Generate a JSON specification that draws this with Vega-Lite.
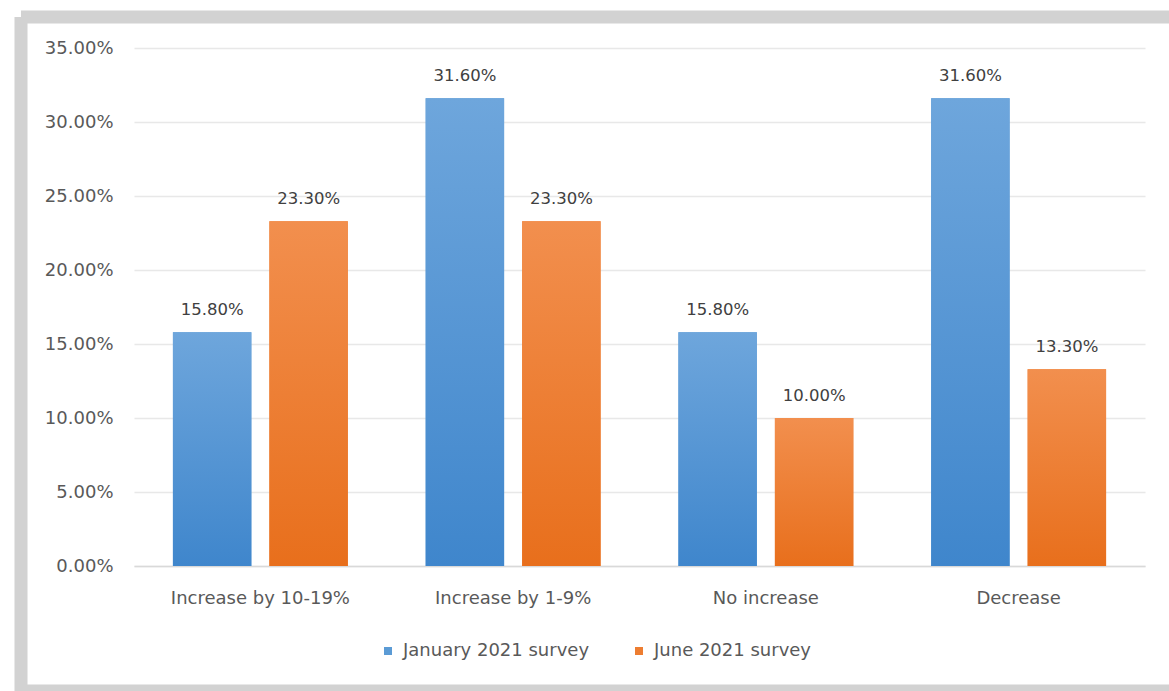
{
  "$schema": "https://vega.github.io/schema/vega-lite/v6.json",
  "width": 1148,
  "height": 674,
  "autosize": {"type": "none"},
  "padding": {"left": 21, "top": 17, "right": 0, "bottom": 0},
  "background": "white",
  "config": {
    "view": {"stroke": "#d2d2d2", "strokeWidth": 13, "strokeDash": [1148, 674, 1822, 0]},
    "font": "DejaVu Sans"
  },
  "data": {
    "values": [
      {"category": "Increase by 10-19%", "series": "January 2021 survey", "value": 0.158},
      {"category": "Increase by 10-19%", "series": "June 2021 survey", "value": 0.233},
      {"category": "Increase by 1-9%", "series": "January 2021 survey", "value": 0.316},
      {"category": "Increase by 1-9%", "series": "June 2021 survey", "value": 0.233},
      {"category": "No increase", "series": "January 2021 survey", "value": 0.158},
      {"category": "No increase", "series": "June 2021 survey", "value": 0.10},
      {"category": "Decrease", "series": "January 2021 survey", "value": 0.316},
      {"category": "Decrease", "series": "June 2021 survey", "value": 0.133}
    ]
  },
  "encoding": {
    "x": {
      "field": "category",
      "type": "nominal",
      "sort": ["Increase by 10-19%", "Increase by 1-9%", "No increase", "Decrease"],
      "scale": {"range": [113, 1124], "paddingInner": 0.308, "paddingOuter": 0.154},
      "axis": {
        "title": null,
        "labelAngle": 0,
        "orient": "bottom",
        "offset": -125,
        "ticks": false,
        "domainColor": "#d9d9d9",
        "domainWidth": 1.5,
        "labelFontSize": 18,
        "labelColor": "#595959",
        "labelPadding": 23,
        "labelLimit": 400,
        "grid": false
      }
    },
    "xOffset": {
      "field": "series",
      "type": "nominal",
      "sort": ["January 2021 survey", "June 2021 survey"],
      "scale": {"paddingInner": 0.187, "paddingOuter": 0}
    },
    "y": {
      "field": "value",
      "type": "quantitative",
      "scale": {"domain": [0, 0.35], "range": [549, 31], "nice": false, "zero": true},
      "axis": {
        "title": null,
        "format": ".2%",
        "values": [0, 0.05, 0.1, 0.15, 0.2, 0.25, 0.3, 0.35],
        "offset": -100,
        "ticks": false,
        "domain": false,
        "gridColor": "#e8e8e8",
        "gridWidth": 1.5,
        "labelFontSize": 18,
        "labelColor": "#595959",
        "labelPadding": 8
      }
    }
  },
  "layer": [
    {
      "mark": {"type": "bar"},
      "encoding": {
        "color": {
          "field": "series",
          "type": "nominal",
          "scale": {"domain": ["January 2021 survey", "June 2021 survey"], "range": ["#5b9bd5", "#ed7d31"]},
          "legend": {
            "orient": "none",
            "legendX": 358,
            "legendY": 625,
            "direction": "horizontal",
            "title": null,
            "symbolType": "square",
            "symbolSize": 64,
            "symbolStrokeWidth": 0,
            "labelFontSize": 18,
            "labelColor": "#595959",
            "labelLimit": 400,
            "columnPadding": 40,
            "labelOffset": 6
          }
        }
      }
    },
    {
      "mark": {"type": "bar"},
      "encoding": {
        "fill": {
          "condition": {
            "test": "datum.series === 'January 2021 survey'",
            "value": {"gradient": "linear", "x1": 0, "y1": 0, "x2": 0, "y2": 1, "stops": [{"offset": 0, "color": "#6ea6dc"}, {"offset": 1, "color": "#3f86cc"}]}
          },
          "value": {"gradient": "linear", "x1": 0, "y1": 0, "x2": 0, "y2": 1, "stops": [{"offset": 0, "color": "#f28f4e"}, {"offset": 1, "color": "#e86f1c"}]}
        }
      }
    },
    {
      "mark": {"type": "text", "baseline": "bottom", "dy": -14, "fontSize": 16.5, "color": "#404040"},
      "encoding": {
        "text": {"field": "value", "type": "quantitative", "format": ".2%"}
      }
    }
  ]
}
